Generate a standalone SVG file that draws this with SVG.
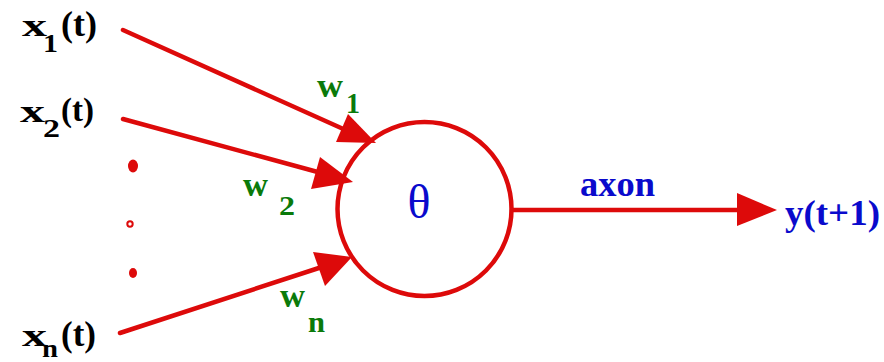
<svg xmlns="http://www.w3.org/2000/svg" width="884" height="362" viewBox="0 0 884 362">
<style>
.ln{stroke:#dd0a0a;stroke-width:4.5;fill:none;stroke-linecap:round}
.ah{fill:#dd0a0a}
text{font-family:'Liberation Serif','Times New Roman',serif;font-weight:bold}
.in{fill:#000}
.w{fill:#0a7a0a}
.b{fill:#0a0acc}
</style>
<rect width="884" height="362" fill="#fff"/>
<g id="neuron">
<circle cx="424.5" cy="209" r="87" class="ln"/>
<text x="419" y="218" font-size="48" fill="#0a0acc" text-anchor="middle" style="font-weight:normal">θ</text>
</g>
<g id="x1">
<text class="in" x="22" y="36" font-size="32" textLength="25" lengthAdjust="spacingAndGlyphs">x</text>
<text class="in" x="43" y="52" font-size="26" textLength="15" lengthAdjust="spacingAndGlyphs">1</text>
<text class="in" x="61" y="36" font-size="35" textLength="36" lengthAdjust="spacingAndGlyphs">(t)</text>
</g>
<g id="x2">
<text class="in" x="20" y="122" font-size="32" textLength="25" lengthAdjust="spacingAndGlyphs">x</text>
<text class="in" x="43" y="137" font-size="26" textLength="17" lengthAdjust="spacingAndGlyphs">2</text>
<text class="in" x="61" y="121" font-size="34" textLength="33" lengthAdjust="spacingAndGlyphs">(t)</text>
</g>
<g id="xn">
<text class="in" x="22" y="346" font-size="32" textLength="25" lengthAdjust="spacingAndGlyphs">x</text>
<text class="in" x="42" y="357" font-size="26" textLength="16" lengthAdjust="spacingAndGlyphs">n</text>
<text class="in" x="61" y="346" font-size="35" textLength="35" lengthAdjust="spacingAndGlyphs">(t)</text>
</g>
<g id="dots">
<ellipse cx="133" cy="166" rx="5" ry="6.5" fill="#dd0a0a"/>
<circle cx="130" cy="224" r="2.7" fill="none" stroke="#dd0a0a" stroke-width="2"/>
<ellipse cx="133" cy="273" rx="4" ry="5" fill="#dd0a0a"/>
</g>
<g id="output"><text class="b" x="785" y="225" font-size="36" textLength="95" lengthAdjust="spacingAndGlyphs">y(t+1)</text></g>
<g id="connectors">
<line class="ln" x1="123" y1="30" x2="350" y2="132"/>
<polygon class="ah" points="376,143 336,142 348,114"/>
<line class="ln" x1="123" y1="119" x2="325" y2="174"/>
<polygon class="ah" points="353,182 311,189 320,157"/>
<line class="ln" x1="120" y1="333" x2="325" y2="266"/>
<polygon class="ah" points="352,257 325,286 313,252"/>
<line class="ln" x1="512" y1="210" x2="742" y2="210"/>
<polygon class="ah" points="777,210 737,193 737,226"/>
</g>
<g id="labels">
<text class="w" x="317" y="97" font-size="34" textLength="26" lengthAdjust="spacingAndGlyphs">w</text>
<text class="w" x="346" y="113" font-size="29" textLength="14" lengthAdjust="spacingAndGlyphs">1</text>
<text class="w" x="243" y="196" font-size="34" textLength="25" lengthAdjust="spacingAndGlyphs">w</text>
<text class="w" x="279" y="215" font-size="27" textLength="16" lengthAdjust="spacingAndGlyphs">2</text>
<text class="w" x="280" y="307" font-size="34" textLength="25" lengthAdjust="spacingAndGlyphs">w</text>
<text class="w" x="308" y="332" font-size="30" textLength="17" lengthAdjust="spacingAndGlyphs">n</text>
<text class="b" x="580" y="196" font-size="36" textLength="75" lengthAdjust="spacingAndGlyphs">axon</text>
</g>
</svg>
